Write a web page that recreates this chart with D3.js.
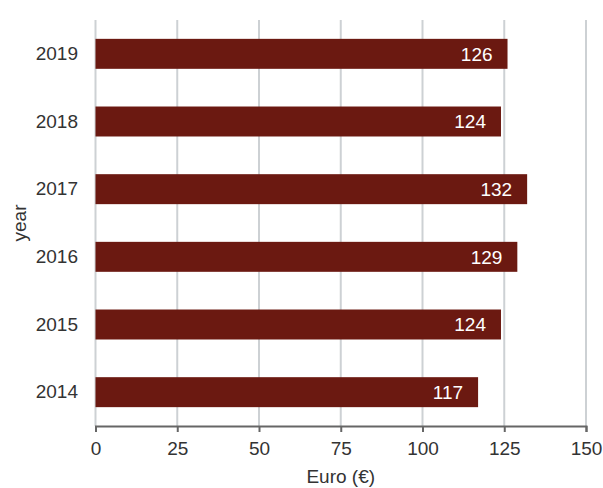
<!DOCTYPE html>
<html>
<head>
<meta charset="utf-8">
<script src="https://cdn.jsdelivr.net/npm/d3@7"></script>
<style>
  body { margin: 0; background: #fff; }
  text { font-family: "Liberation Sans", Arial, sans-serif; }
</style>
</head>
<body>
<svg id="chart" width="603" height="488"></svg>
<script>
// Annual spending per year, in euro
const years = ["2019", "2018", "2017", "2016", "2015", "2014"];
const values = [126, 124, 132, 129, 124, 117];
const xTicks = [0, 25, 50, 75, 100, 125, 150];

const svg = d3.select("#chart");
const margin = { top: 20, right: 17, bottom: 62, left: 95.5 };
const width = 603 - margin.left - margin.right;
const height = 488 - margin.top - margin.bottom;
const fontFamily = "'Liberation Sans', Arial, sans-serif";

const g = svg.append("g").attr("transform", `translate(${margin.left},${margin.top})`);

const x = d3.scaleLinear().domain([0, 150]).range([0, width]);
const y = d3.scaleBand().domain(years).range([0, height])
  .paddingInner(0.557).paddingOuter(0.557 / 2);

// vertical gridlines
g.selectAll("line.grid").data(xTicks).join("line")
  .attr("class", "grid")
  .attr("x1", d => x(d)).attr("x2", d => x(d))
  .attr("y1", 0).attr("y2", height)
  .attr("stroke", "#cdd1d4").attr("stroke-width", 2);

// bars
g.selectAll("rect.bar").data(years).join("rect")
  .attr("class", "bar")
  .attr("x", x(0))
  .attr("y", d => y(d))
  .attr("width", (d, i) => x(values[i]) - x(0))
  .attr("height", y.bandwidth())
  .attr("fill", "#6b1911");

// value labels inside bar ends
g.selectAll("text.val").data(years).join("text")
  .attr("class", "val")
  .attr("x", (d, i) => x(values[i]) - 15)
  .attr("y", d => y(d) + y.bandwidth() / 2)
  .attr("dy", "0.36em")
  .attr("text-anchor", "end")
  .attr("fill", "#fff")
  .attr("font-size", 19)
  .text((d, i) => values[i]);

// x axis
const xAxis = g.append("g").attr("transform", `translate(0,${height})`)
  .call(d3.axisBottom(x).tickValues(xTicks).tickSize(6).tickPadding(9.5));
xAxis.select(".domain").attr("stroke", "#666").attr("stroke-width", 2);
xAxis.selectAll(".tick line").attr("stroke", "#666").attr("stroke-width", 2);
xAxis.selectAll(".tick text").attr("fill", "#333").attr("font-size", 19)
  .style("font-family", fontFamily);

// y axis labels (no axis line)
const yAxis = g.append("g").call(d3.axisLeft(y).tickSize(0).tickPadding(17.5));
yAxis.select(".domain").remove();
yAxis.selectAll(".tick text").attr("fill", "#333").attr("font-size", 19)
  .style("font-family", fontFamily);

// axis titles
svg.append("text")
  .attr("x", margin.left + width / 2).attr("y", 483)
  .attr("text-anchor", "middle").attr("fill", "#333").attr("font-size", 19)
  .text("Euro (€)");

svg.append("text")
  .attr("transform", `translate(26,${margin.top + height / 2}) rotate(-90)`)
  .attr("text-anchor", "middle").attr("fill", "#333").attr("font-size", 19)
  .text("year");
</script>
</body>
</html>
